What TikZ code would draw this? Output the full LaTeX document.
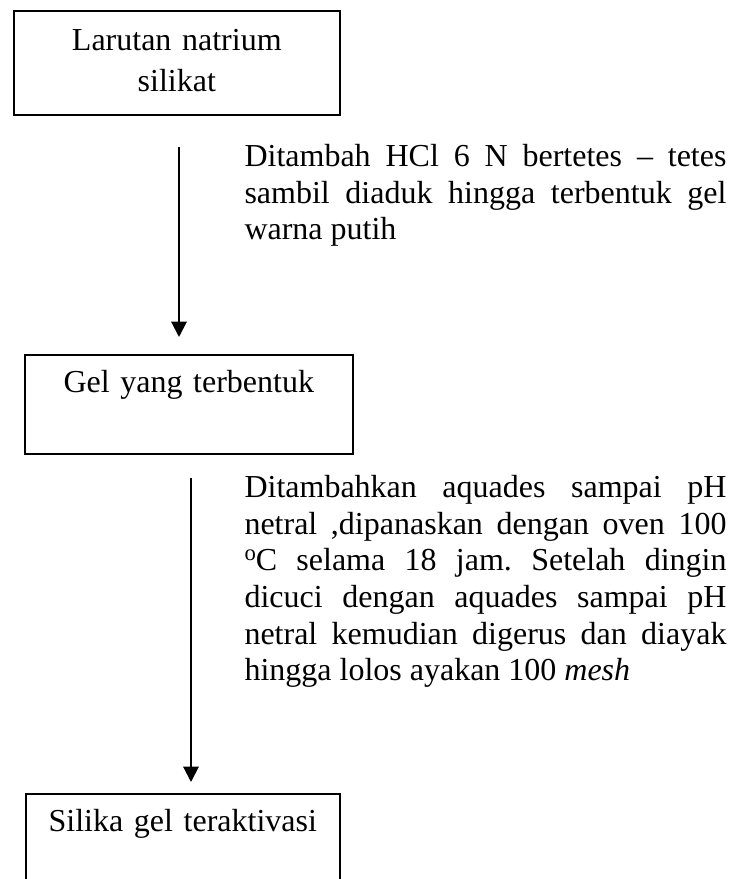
\documentclass[tikz,border=0pt]{standalone}
\usepackage{fontspec}
\setmainfont{Liberation Serif}
\usetikzlibrary{arrows.meta}
\frenchspacing

\tikzset{every picture/.style={line width=0.75pt}}
\tikzset{
  procbox/.style={draw, line width=1.2pt, inner sep=0pt, anchor=north west, align=center, font=\fontsize{24}{30.5}\selectfont},
  stepnote/.style={inner sep=0pt, anchor=north west, text width=361.5pt, align=justify, font=\fontsize{24}{27.5}\selectfont},
  flowarrow/.style={line width=1.5pt, -{Triangle[width=11.5pt,length=11.5pt]}}
}
\newcommand{\degmark}{\raisebox{0.33em}{\fontsize{17}{17}\selectfont o}}

\begin{document}
\begin{tikzpicture}[x=0.75pt,y=0.75pt,yscale=-1,xscale=1]
\useasboundingbox (0,0) rectangle (733,879);

%Shape: Rectangle [id:larutan]
\node (larutan) at (13,10) [procbox, text width=244.5pt, minimum height=78pt] {\strut Larutan natrium\\\strut silikat};
%Shape: Rectangle [id:gel]
\node (gel) at (24,354) [procbox, text width=246pt, minimum height=74.25pt] {\strut Gel yang terbentuk\\\strut};
%Shape: Rectangle [id:silika]
\node (silika) at (25,793) [procbox, text width=235.5pt, minimum height=74.25pt] {\strut Silika gel teraktivasi\\\strut};

%Straight Lines [id:arrowone]
\coordinate (arrowoneTop) at (179,147);
\coordinate (arrowoneEnd) at (179,337);
\draw [flowarrow] (arrowoneTop) -- (arrowoneEnd);
%Straight Lines [id:arrowtwo]
\coordinate (arrowtwoTop) at (191,478);
\coordinate (arrowtwoEnd) at (191,782);
\draw [flowarrow] (arrowtwoTop) -- (arrowtwoEnd);

% Text Node
\node (noteone) at (244,140.3) [stepnote] {\strut Ditambah HCl 6 N bertetes – tetes\linebreak sambil diaduk hingga terbentuk gel\linebreak warna putih};
% Text Node
\node (notetwo) at (244,471.3) [stepnote] {\strut Ditambahkan aquades sampai pH\linebreak netral ,dipanaskan dengan oven 100\linebreak \degmark C selama 18 jam. Setelah dingin\linebreak dicuci dengan aquades sampai pH\linebreak netral kemudian digerus dan diayak\linebreak hingga lolos ayakan 100 \textit{mesh}};

\end{tikzpicture}
\end{document}
